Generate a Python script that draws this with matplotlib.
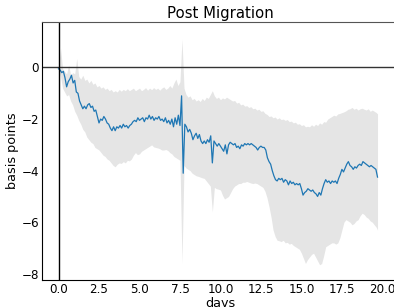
import numpy as np
import matplotlib
matplotlib.use("Agg")
import matplotlib.pyplot as plt

# mean series (basis points), sampled every 0.1 day from 0.0 to 19.7
mean_bp = [
    -0.05, -0.10, -0.20, -0.15, -0.40, -0.75, -0.55, -0.45, -0.30, -0.60,
    -0.50, -0.95, -1.00, -1.30, -1.45, -1.60, -1.50, -1.60, -1.45, -1.40,
    -1.55, -1.50, -1.70, -1.65, -1.90, -2.15, -2.00, -2.05, -1.90, -2.00,
    -2.15, -2.20, -2.35, -2.45, -2.30, -2.45, -2.30, -2.35, -2.25, -2.35,
    -2.20, -2.30, -2.25, -2.35, -2.25, -2.20, -2.10, -2.05, -2.10, -1.95,
    -2.05, -2.00, -1.95, -2.10, -1.95, -2.00, -1.85, -2.00, -1.90, -2.05,
    -1.95, -2.00, -1.90, -2.05, -2.00, -2.10, -1.95, -2.15, -2.05, -2.20,
    -2.00, -2.30, -1.95, -2.20, -1.85, -2.25, -1.10, -4.10, -2.20, -2.30,
    -2.50, -2.40, -2.55, -2.80, -2.65, -2.55, -2.75, -2.60, -2.85, -2.95,
    -2.85, -2.95, -2.80, -2.90, -2.65, -3.70, -2.85, -2.95, -3.05, -2.95,
    -3.05, -3.15, -3.25, -3.00, -3.35, -3.00, -2.90, -2.95, -3.00, -2.95,
    -3.10, -3.05, -3.15, -3.00, -3.05, -2.95, -3.00, -2.95, -3.00, -2.95,
    -3.00, -3.05, -3.10, -3.20, -3.10, -3.05, -3.10, -3.10, -3.20, -3.50,
    -3.65, -3.75, -4.00, -4.20, -4.35, -4.40, -4.30, -4.35, -4.30, -4.45,
    -4.35, -4.40, -4.55, -4.40, -4.50, -4.45, -4.55, -4.50, -4.55, -4.50,
    -4.70, -4.95, -4.85, -4.80, -4.70, -4.75, -4.80, -4.75, -4.85, -4.90,
    -5.00, -4.85, -4.95, -4.70, -4.50, -4.35, -4.45, -4.40, -4.50, -4.40,
    -4.45, -4.40, -4.50, -4.30, -4.15, -3.95, -4.05, -3.90, -3.75, -3.65,
    -3.80, -3.85, -3.95, -3.85, -3.90, -3.80, -3.75, -3.80, -3.65, -3.70,
    -3.75, -3.80, -3.85, -3.80, -3.85, -3.90, -3.95, -4.25,
]
days = np.round(np.arange(len(mean_bp)) * 0.1, 2)

# confidence band, sampled every 0.125 day, last sample at 19.7
band_upper = [
    0.00, 0.75, -0.05, -0.15, -0.25, 0.10, -0.30, -0.20, -0.25, 0.35,
    -0.35, -0.45, -0.30, -0.50, -0.45, -0.60, -0.50, -0.65, -0.60, -0.75,
    -0.70, -0.80, -0.75, -0.85, -0.80, -0.90, -0.85, -0.95, -0.90, -0.95,
    -0.85, -0.92, -0.85, -0.90, -0.82, -0.90, -0.85, -0.80, -0.90, -0.85,
    -0.80, -0.90, -0.85, -0.78, -0.88, -0.80, -0.86, -0.78, -0.85, -0.80,
    -0.88, -0.80, -0.75, -0.85, -0.80, -0.70, -0.80, -0.60, -0.45, -0.70,
    -0.55, 1.10, -0.80, -1.05, -1.15, -1.10, -1.25, -1.20, -1.30, -1.25,
    -1.32, -1.20, -1.28, -1.15, -1.20, -1.05, -0.90, -1.10, -1.20, -1.15,
    -1.25, -1.18, -1.22, -1.15, -1.20, -1.25, -1.30, -1.28, -1.38, -1.35,
    -1.45, -1.42, -1.50, -1.48, -1.55, -1.52, -1.60, -1.58, -1.65, -1.62,
    -1.70, -1.68, -1.78, -1.82, -1.90, -1.88, -1.95, -1.92, -2.00, -1.95,
    -2.02, -2.00, -2.05, -2.02, -2.10, -2.08, -2.15, -2.12, -2.20, -2.18,
    -2.25, -2.22, -2.30, -2.28, -2.30, -2.22, -2.28, -2.20, -2.25, -2.15,
    -2.20, -2.10, -2.12, -2.00, -1.95, -1.90, -1.85, -1.88, -1.80, -1.78,
    -1.75, -1.72, -1.68, -1.62, -1.60, -1.55, -1.62, -1.58, -1.65, -1.60,
    -1.58, -1.62, -1.65, -1.60, -1.70, -1.65, -1.70, -1.75, -1.80,
]
band_lower = [
    -0.10, -0.35, -0.80, -0.95, -1.10, -1.05, -1.30, -1.45, -1.70, -1.85,
    -2.05, -2.20, -2.40, -2.50, -2.70, -2.80, -2.90, -2.95, -3.10, -3.15,
    -3.20, -3.30, -3.40, -3.45, -3.55, -3.60, -3.70, -3.80, -3.85, -3.75,
    -3.70, -3.72, -3.65, -3.70, -3.60, -3.62, -3.55, -3.40, -3.30, -3.38,
    -3.35, -3.25, -3.20, -3.15, -3.10, -3.05, -3.00, -3.08, -3.10, -3.12,
    -3.15, -3.20, -3.20, -3.18, -3.22, -3.30, -3.35, -3.45, -3.50, -3.55,
    -3.60, -7.60, -3.80, -3.90, -3.95, -4.00, -4.10, -4.15, -4.20, -4.22,
    -4.25, -4.28, -4.30, -4.40, -4.50, -4.60, -5.60, -4.65, -4.70, -4.72,
    -4.75, -4.95, -5.10, -5.05, -5.00, -4.85, -4.70, -4.60, -4.55, -4.50,
    -4.50, -4.45, -4.45, -4.42, -4.45, -4.48, -4.50, -4.48, -4.50, -4.55,
    -4.60, -4.65, -4.80, -5.05, -5.40, -5.80, -6.30, -6.55, -6.70, -6.72,
    -6.75, -6.70, -6.80, -6.78, -6.85, -6.82, -6.90, -6.95, -7.00, -7.05,
    -7.20, -7.40, -7.60, -7.45, -7.35, -7.25, -7.20, -7.35, -7.50, -7.65,
    -7.60, -7.30, -6.95, -6.90, -6.85, -6.80, -6.80, -6.85, -6.80, -6.60,
    -6.30, -6.00, -5.90, -5.95, -6.00, -6.10, -6.05, -5.95, -5.90, -5.75,
    -5.65, -5.70, -5.80, -5.85, -5.95, -6.00, -6.10, -6.20, -6.30,
]
band_days = np.append(np.arange(len(band_upper) - 1) * 0.125, 19.7)

yticks = [0, -2, -4, -6, -8]
xticks = [0.0, 2.5, 5.0, 7.5, 10.0, 12.5, 15.0, 17.5, 20.0]

fig = plt.figure(figsize=(3.94, 3.07), dpi=100)
ax = fig.add_axes([0.1066, 0.088, 0.905, 0.840])

ax.fill_between(band_days, band_lower, band_upper, color="#e5e5e5", lw=0)
ax.plot(days, mean_bp, color="#1f77b4", lw=0.9)
ax.axhline(0, color="#333333", lw=1.0)
ax.axvline(0, color="black", lw=1.0)

ax.set_xlim(-1.02, 21.0)
ax.set_ylim(-8.24, 1.76)
ax.set_xticks(xticks)
ax.set_xticklabels([f"{t:.1f}" for t in xticks])
ax.set_yticks(yticks)
ax.tick_params(length=0, labelsize=8.6, pad=2)
ax.spines["right"].set_visible(False)
ax.spines["top"].set_color("#555555")
ax.spines["left"].set_color("black")
ax.spines["bottom"].set_color("black")

ax.set_title("Post Migration", fontsize=10.7, pad=3)
ax.set_xlabel("days", fontsize=9.2, labelpad=1)
ax.set_ylabel("basis points", fontsize=9.2, labelpad=2)

fig.savefig("out.png", dpi=100)
